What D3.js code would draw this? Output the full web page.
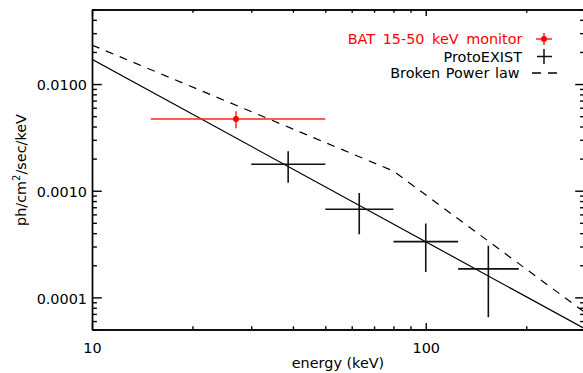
<!DOCTYPE html>
<html>
<head>
<meta charset="utf-8">
<script src="https://cdn.jsdelivr.net/npm/d3@7"></script>
<style>
  html, body { margin: 0; padding: 0; background: #fff; }
  svg { display: block; font-family: "DejaVu Sans", sans-serif; }
</style>
</head>
<body>
<svg id="chart" width="583" height="373"></svg>
<script>
// BAT 15-50 keV monitor point
const batEnergy = [27];
const batEnergyLo = [15];
const batEnergyHi = [50];
const batFlux = [0.0047];
const batFluxErr = [0.00085];

// ProtoEXIST spectral points (energy bins and flux with 1-sigma errors)
const protoEnergy = [38.7, 63.2, 100, 154];
const protoEnergyLo = [30, 50, 80, 125];
const protoEnergyHi = [50, 80, 125, 190];
const protoFlux = [0.00177, 0.00067, 0.000333, 0.000185];
const protoFluxErr = [0.00058, 0.00028, 0.00016, 0.00012];

// Power-law model (solid) and broken power-law model (dashed)
const powerLawEnergy = [10, 300];
const powerLawFlux = [0.0171, 0.0000507];
const brokenEnergy = [10, 80, 300];
const brokenFlux = [0.0232, 0.00153, 0.0000721];

// Axis ticks
const xMajorTicks = [10, 100];
const xMinorTicks = [20, 30, 40, 50, 60, 70, 80, 90, 200, 300];
const yMajorTicks = [0.0001, 0.001, 0.01];
const yMinorTicks = [5e-5, 6e-5, 7e-5, 8e-5, 9e-5,
  2e-4, 3e-4, 4e-4, 5e-4, 6e-4, 7e-4, 8e-4, 9e-4,
  2e-3, 3e-3, 4e-3, 5e-3, 6e-3, 7e-3, 8e-3, 9e-3,
  0.02, 0.03, 0.04, 0.05];

const svg = d3.select("#chart");
const plotLeft = 92, plotRight = 585, plotTop = 9.5, plotBottom = 329.5;
const FS = 14.4;

const x = d3.scaleLog().domain([10, 300]).range([plotLeft, plotRight]);
const y = d3.scaleLog().domain([5e-5, 0.05]).range([plotBottom, plotTop]);

svg.append("defs").append("clipPath").attr("id", "plotClip")
  .append("rect").attr("x", plotLeft).attr("y", plotTop)
  .attr("width", plotRight - plotLeft).attr("height", plotBottom - plotTop);

function styleAxis(g) {
  g.attr("font-family", "\"DejaVu Sans\", sans-serif").attr("font-size", FS);
  g.selectAll("path, line").attr("stroke", "#000").attr("stroke-width", 1.4);
  g.selectAll("text").attr("fill", "#000");
}

// Bottom axis
svg.append("g").attr("transform", `translate(0,${plotBottom})`)
  .call(d3.axisBottom(x).tickValues(xMajorTicks).tickSizeInner(-6.4).tickSizeOuter(0)
    .tickPadding(13).tickFormat(d3.format("d")))
  .call(styleAxis);
svg.append("g").attr("transform", `translate(0,${plotBottom})`)
  .call(d3.axisBottom(x).tickValues(xMinorTicks).tickSizeInner(-3.2).tickSizeOuter(0).tickFormat(""))
  .call(styleAxis);
// Top axis
svg.append("g").attr("transform", `translate(0,${plotTop})`)
  .call(d3.axisTop(x).tickValues(xMajorTicks).tickSizeInner(-6.4).tickSizeOuter(0).tickFormat(""))
  .call(styleAxis);
svg.append("g").attr("transform", `translate(0,${plotTop})`)
  .call(d3.axisTop(x).tickValues(xMinorTicks).tickSizeInner(-3.2).tickSizeOuter(0).tickFormat(""))
  .call(styleAxis);
// Left axis
svg.append("g").attr("transform", `translate(${plotLeft},0)`)
  .call(d3.axisLeft(y).tickValues(yMajorTicks).tickSizeInner(-9.8).tickSizeOuter(0)
    .tickPadding(5).tickFormat(d3.format(".4f")))
  .call(styleAxis)
  .call(g => g.selectAll("text").attr("dy", "0.4em"));
svg.append("g").attr("transform", `translate(${plotLeft},0)`)
  .call(d3.axisLeft(y).tickValues(yMinorTicks).tickSizeInner(-4.9).tickSizeOuter(0).tickFormat(""))
  .call(styleAxis);
// Right axis
svg.append("g").attr("transform", `translate(${plotRight},0)`)
  .call(d3.axisRight(y).tickValues(yMajorTicks).tickSizeInner(-9.8).tickSizeOuter(0).tickFormat(""))
  .call(styleAxis);
svg.append("g").attr("transform", `translate(${plotRight},0)`)
  .call(d3.axisRight(y).tickValues(yMinorTicks).tickSizeInner(-4.9).tickSizeOuter(0).tickFormat(""))
  .call(styleAxis);

// Axis titles
svg.append("text")
  .attr("x", 338).attr("y", 368)
  .attr("text-anchor", "middle").attr("font-size", FS)
  .text("energy (keV)");

const yTitle = svg.append("text")
  .attr("transform", "translate(26,170) rotate(-90)")
  .attr("text-anchor", "middle").attr("font-size", FS);
yTitle.append("tspan").text("ph/cm");
yTitle.append("tspan").attr("dy", -6).attr("font-size", 10).text("2");
yTitle.append("tspan").attr("dy", 6).text("/sec/keV");

// Model lines
const plot = svg.append("g").attr("clip-path", "url(#plotClip)");
const line = d3.line().x(d => x(d[0])).y(d => y(d[1]));

plot.append("path")
  .datum(powerLawEnergy.map((e, i) => [e, powerLawFlux[i]]))
  .attr("d", line).attr("fill", "none")
  .attr("stroke", "#000").attr("stroke-width", 1.2);

plot.append("path")
  .datum(brokenEnergy.map((e, i) => [e, brokenFlux[i]]))
  .attr("d", line).attr("fill", "none")
  .attr("stroke", "#000").attr("stroke-width", 1.2)
  .attr("stroke-dasharray", "8,7");

// Error-bar crosses
function crosses(sel, energy, lo, hi, flux, err, color, width) {
  const data = energy.map((e, i) => ({e, lo: lo[i], hi: hi[i], f: flux[i], df: err[i]}));
  const g = sel.append("g").attr("stroke", color).attr("stroke-width", width);
  g.selectAll("line.h").data(data).join("line").attr("class", "h")
    .attr("x1", d => x(d.lo)).attr("x2", d => x(d.hi))
    .attr("y1", d => y(d.f)).attr("y2", d => y(d.f));
  g.selectAll("line.v").data(data).join("line").attr("class", "v")
    .attr("x1", d => x(d.e)).attr("x2", d => x(d.e))
    .attr("y1", d => y(d.f - d.df)).attr("y2", d => y(d.f + d.df));
  return data;
}

crosses(plot, protoEnergy, protoEnergyLo, protoEnergyHi, protoFlux, protoFluxErr, "#111", 1.6);
const batData = crosses(plot, batEnergy, batEnergyLo, batEnergyHi, batFlux, batFluxErr, "#f22", 1.5);
plot.selectAll("circle.bat").data(batData).join("circle").attr("class", "bat")
  .attr("cx", d => x(d.e)).attr("cy", d => y(d.f)).attr("r", 3).attr("fill", "#f00");

// Legend
const legend = svg.append("g").attr("font-size", FS).attr("text-anchor", "end");
legend.append("text").attr("x", 522.5).attr("y", 44).attr("fill", "#f00")
  .style("word-spacing", "3px").text("BAT 15-50 keV monitor");
legend.append("text").attr("x", 522).attr("y", 61.7).attr("fill", "#000").text("ProtoEXIST");
legend.append("text").attr("x", 519.5).attr("y", 78.3).attr("fill", "#000")
  .style("word-spacing", "1px").text("Broken Power law");

const lg = svg.append("g");
lg.append("line").attr("x1", 536).attr("x2", 552).attr("y1", 39).attr("y2", 39)
  .attr("stroke", "#f22").attr("stroke-width", 1.5);
lg.append("line").attr("x1", 544).attr("x2", 544).attr("y1", 33).attr("y2", 45)
  .attr("stroke", "#f22").attr("stroke-width", 1.5);
lg.append("circle").attr("cx", 544).attr("cy", 39).attr("r", 3).attr("fill", "#f00");
lg.append("line").attr("x1", 537).attr("x2", 552).attr("y1", 56.5).attr("y2", 56.5)
  .attr("stroke", "#111").attr("stroke-width", 1.5);
lg.append("line").attr("x1", 544).attr("x2", 544).attr("y1", 49).attr("y2", 64)
  .attr("stroke", "#111").attr("stroke-width", 1.5);
lg.append("line").attr("x1", 532).attr("x2", 558).attr("y1", 73).attr("y2", 73)
  .attr("stroke", "#000").attr("stroke-width", 1.3).attr("stroke-dasharray", "9,7");
</script>
</body>
</html>
